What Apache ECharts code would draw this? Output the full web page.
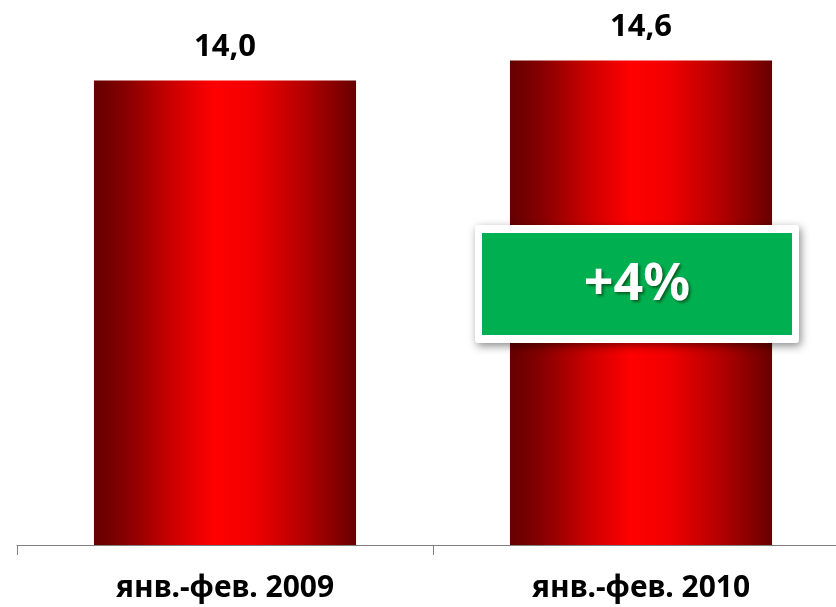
<!DOCTYPE html>
<html><head><meta charset="utf-8">
<script src="https://cdn.jsdelivr.net/npm/echarts@6/dist/echarts.min.js"></script>
<style>html,body{margin:0;padding:0;background:#fff;overflow:hidden}#c{width:849px;height:607px}</style>
</head><body><div id="c"></div>
<script>
const categories = ['янв.-фев. 2009', 'янв.-фев. 2010'];
const values = [14.0, 14.6];
const changeLabel = '+4%';

const chart = echarts.init(document.getElementById('c'));
const barGrad = new echarts.graphic.LinearGradient(0, 0, 1, 0, [
  {offset: 0, color: '#640000'},
  {offset: 0.12, color: '#860000'},
  {offset: 0.3, color: '#cc0000'},
  {offset: 0.46, color: '#ff0000'},
  {offset: 0.6, color: '#f20000'},
  {offset: 0.8, color: '#b50000'},
  {offset: 1, color: '#680000'}
]);
chart.setOption({
  animation: false,
  grid: {left: 17, top: 14, bottom: 62, right: 0},
  xAxis: {
    type: 'category', data: categories,
    axisLine: {lineStyle: {color: '#7f7f7f', width: 1}},
    axisTick: {show: true, length: 10, lineStyle: {color: '#7f7f7f'}},
    axisLabel: {margin: 28, fontFamily: 'Noto Sans', fontWeight: 'bold', fontSize: 30, color: '#000'}
  },
  yAxis: {type: 'value', min: 0, max: 16, show: false, splitLine: {show: false}},
  series: [{
    type: 'bar', data: values, barWidth: '63%',
    itemStyle: {color: barGrad},
    label: {show: true, position: 'top', distance: 18,
      formatter: p => p.value.toFixed(1).replace('.', ','),
      fontFamily: 'Noto Sans', fontWeight: 'bold', fontSize: 31, color: '#000'}
  }],
  graphic: [
    {type: 'rect', z: 100, shape: {x: 475, y: 225, width: 324, height: 118, r: 3},
     style: {fill: '#ffffff', shadowBlur: 8, shadowOffsetX: 2, shadowOffsetY: 3, shadowColor: 'rgba(0,0,0,0.45)'}},
    {type: 'rect', z: 101, shape: {x: 482, y: 233, width: 310, height: 102},
     style: {fill: '#00b050'}},
    {type: 'text', z: 102, x: 637, y: 285,
     style: {text: changeLabel, fill: '#fff', font: 'bold 52px "Noto Sans"', align: 'center', verticalAlign: 'middle',
       textShadowColor: 'rgba(0,40,0,0.6)', textShadowOffsetX: 2, textShadowOffsetY: 2, textShadowBlur: 3}}
  ]
});
</script></body></html>
